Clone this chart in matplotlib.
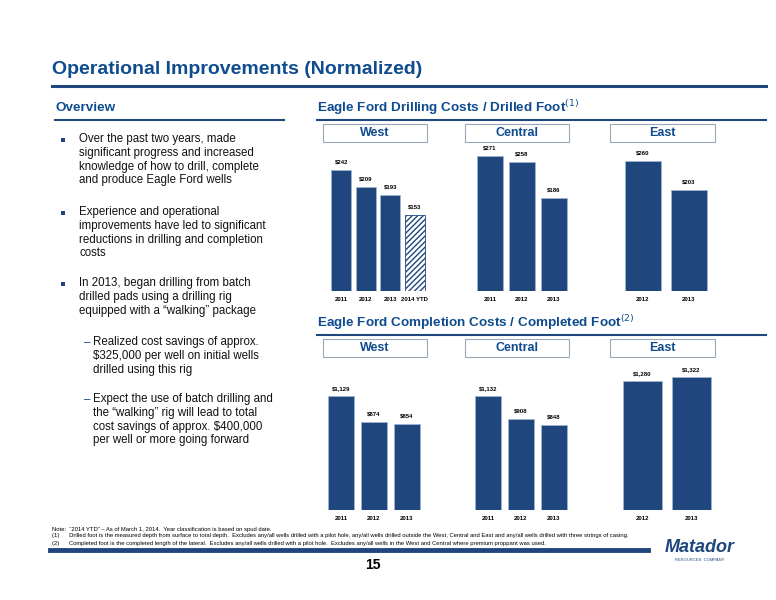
import matplotlib.pyplot as plt
from matplotlib.patches import Rectangle
from matplotlib.lines import Line2D

plt.rcParams['font.family'] = ['Liberation Sans', 'DejaVu Sans']

BLUE = '#1f477d'
HEAD = '#0f4c8f'

drill_west_years = ['2011', '2012', '2013', '2014 YTD']
drill_west = [242, 209, 193, 153]
drill_central_years = ['2011', '2012', '2013']
drill_central = [271, 258, 186]
drill_east_years = ['2012', '2013']
drill_east = [260, 203]

comp_west_years = ['2011', '2012', '2013']
comp_west = [1129, 874, 854]
comp_central_years = ['2011', '2012', '2013']
comp_central = [1132, 908, 848]
comp_east_years = ['2012', '2013']
comp_east = [1280, 1322]

W, H = 776, 600
fig = plt.figure(figsize=(W / 100, H / 100), dpi=100)


def fx(x):
    return x / W


def fy(y):
    return 1 - y / H


def hline(x0, x1, y, lw, color=BLUE):
    fig.add_artist(Line2D([fx(x0), fx(x1)], [fy(y), fy(y)], color=color, lw=lw))


def text(x, y, s, **kw):
    fig.text(fx(x), fy(y), s, **kw)


# title and section headings
text(52, 70, 'Operational Improvements (Normalized)', fontsize=14, color=HEAD,
     fontweight='bold', va='center')
hline(52, 766, 86, 2.2)
text(55, 108, 'Overview', fontsize=9.7, color=HEAD, fontweight='bold', va='center')
hline(55, 284, 120, 1.5)
text(317, 108, 'Eagle Ford Drilling Costs / Drilled Foot$^{(1)}$', fontsize=9.7,
     color=HEAD, fontweight='bold', va='center')
hline(317, 766, 120, 1.5)
text(317, 323, 'Eagle Ford Completion Costs / Completed Foot$^{(2)}$', fontsize=9.7,
     color=HEAD, fontweight='bold', va='center')
hline(317, 766, 335, 1.5)

# overview bullets
bullets = [
    (140, 'Over the past two years, made\nsignificant progress and increased\nknowledge of how to drill, complete\nand produce Eagle Ford wells'),
    (213, 'Experience and operational\nimprovements have led to significant\nreductions in drilling and completion\ncosts'),
    (284, 'In 2013, began drilling from batch\ndrilled pads using a drilling rig\nequipped with a \u201cwalking\u201d package'),
]
for y, s in bullets:
    fig.add_artist(Rectangle((fx(61), fy(y + 2)), 4 / W, 4 / H, facecolor=BLUE,
                             edgecolor='none'))
    text(79, y - 7, s, fontsize=8.3, va='top', linespacing=1.2, color='#111111')
subs = [
    (343, 'Realized cost savings of approx.\n$325,000 per well on initial wells\ndrilled using this rig'),
    (400, 'Expect the use of batch drilling and\nthe \u201cwalking\u201d rig will lead to total\ncost savings of approx. $400,000\nper well or more going forward'),
]
for y, s in subs:
    text(84, y, '\u2013', fontsize=8.3, color=BLUE, va='center')
    text(93, y - 7, s, fontsize=8.3, va='top', linespacing=1.2, color='#111111')


def panel(x0, x1, base, top, ymax, years, vals, fmt, hatch_last=False):
    ax = fig.add_axes([fx(x0), fy(base), fx(x1) - fx(x0), (base - top) / H])
    bars = ax.bar(range(len(vals)), vals, width=0.8, color=BLUE,
                  edgecolor='#9db3cf', linewidth=0.6)
    if hatch_last:
        bars[-1].set_facecolor('white')
        bars[-1].set_hatch('//////')
        bars[-1].set_edgecolor(BLUE)
    for i, v in enumerate(vals):
        ax.text(i, v + ymax * 0.035, fmt.format(v), ha='center', va='bottom',
                fontsize=4.3, fontweight='bold')
    ax.set_xlim(-0.5, len(vals) - 0.5)
    ax.set_ylim(0, ymax)
    ax.set_xticks(range(len(vals)))
    ax.set_xticklabels(years, fontsize=4.3, fontweight='bold')
    ax.tick_params(length=0, pad=4)
    ax.set_yticks([])
    for s in ax.spines.values():
        s.set_visible(False)


def header(x0, x1, y, label):
    fig.add_artist(Rectangle((fx(x0), fy(y + 18)), fx(x1) - fx(x0), 18 / H,
                             facecolor='white', edgecolor='#9aa7b8', lw=0.8))
    text((x0 + x1) / 2, y + 9, label, fontsize=9, color=HEAD, fontweight='bold',
         ha='center', va='center')


for y in (124, 339):
    header(323, 427, y, 'West')
    header(465, 569, y, 'Central')
    header(610, 715, y, 'East')

panel(329, 427, 291, 141, 300, drill_west_years, drill_west, '${}', hatch_last=True)
panel(474, 570, 291, 141, 300, drill_central_years, drill_central, '${}')
panel(620, 712, 291, 141, 300, drill_east_years, drill_east, '${}')

panel(325, 423, 510, 362, 1470, comp_west_years, comp_west, '${:,}')
panel(472, 570, 510, 362, 1470, comp_central_years, comp_central, '${:,}')
panel(618, 716, 510, 362, 1470, comp_east_years, comp_east, '${:,}')

# footnotes
notes = [
    (529, 'Note:  \u201c2014 YTD\u201d \u2013 As of March 1, 2014.  Year classification is based on spud date.'),
    (536, '(1)      Drilled foot is the measured depth from surface to total depth.  Excludes any/all wells drilled with a pilot hole, any/all wells drilled outside the West, Central and East and any/all wells drilled with three strings of casing.'),
    (543, '(2)      Completed foot is the completed length of the lateral.  Excludes any/all wells drilled with a pilot hole.  Excludes any/all wells in the West and Central where premium proppant was used.'),
]
for y, s in notes:
    text(52, y, s, fontsize=4.2, va='center')
hline(50, 648, 550, 3.5)
text(373, 565, '15', fontsize=10, fontweight='bold', ha='center', va='center')
text(700, 548, 'Matador', fontsize=13, color=BLUE, fontweight='bold', style='italic',
     ha='center', va='center')
text(700, 560, 'RESOURCES  COMPANY', fontsize=3, color=BLUE, ha='center', va='center')

fig.savefig('out.png', dpi=100)
